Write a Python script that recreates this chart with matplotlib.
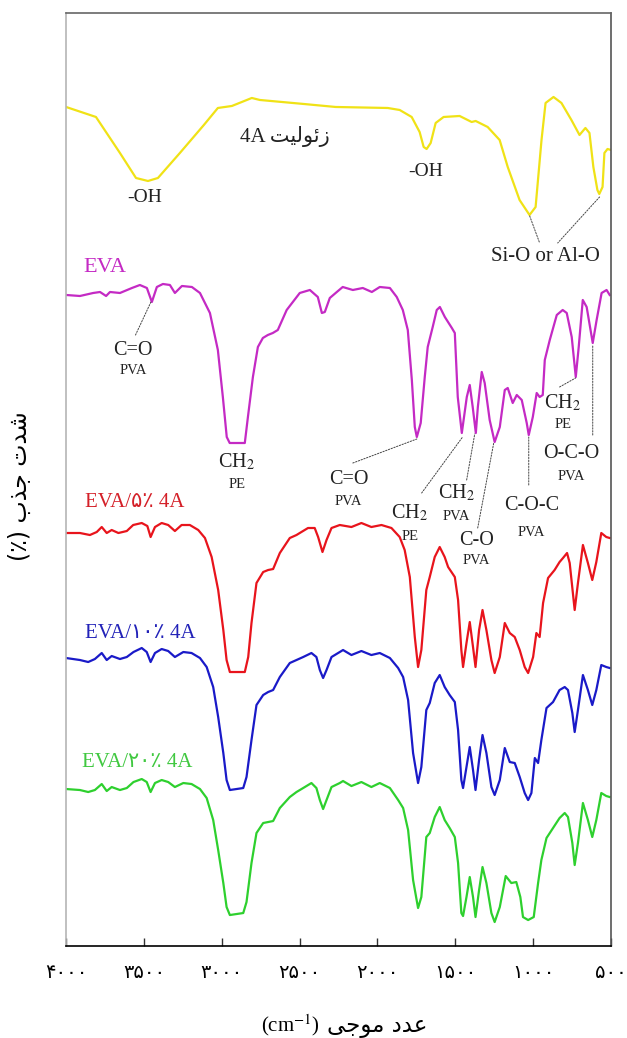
#!/usr/bin/env python3

# FTIR spectra of zeolite 4A, EVA and EVA/4A composites (stacked, arbitrary units)

import matplotlib
matplotlib.use("Agg")
import matplotlib.pyplot as plt

plt.rcParams['font.family'] = ['Liberation Serif', 'DejaVu Sans']
plt.rcParams['mathtext.fontset'] = 'stix'

# ---- data (wavenumber cm-1, stacked intensity a.u.) ----
zeo_wn = [4000, 3808, 3654, 3551, 3474, 3410, 3269, 3115, 3025, 2935, 2807, 2755, 2473, 2268,
          1934, 1857, 1780, 1729, 1703, 1684, 1658, 1626, 1575, 1472, 1395, 1369, 1292, 1215,
          1163, 1087, 1023, 984, 946, 920, 869, 818, 754, 702, 664, 638, 613, 587, 575, 554,
          542, 522, 500]
zeo_y = [839, 829, 793, 768, 765, 768, 793, 821, 838, 840, 848, 846, 842, 839,
         838, 836, 829, 814, 799, 797, 803, 823, 829, 830, 824, 825, 819, 806,
         779, 746, 731, 739, 806, 843, 849, 843, 826, 811, 818, 813, 779, 756, 752, 759,
         793, 797, 796]

eva_wn = [4000, 3911, 3826, 3782, 3743, 3718, 3654, 3577, 3526, 3481, 3449, 3417, 3378, 3333,
          3301, 3256, 3192, 3140, 3076, 3025, 2993, 2968, 2949, 2852, 2832, 2800, 2768, 2736,
          2704, 2672, 2640, 2583, 2499, 2434, 2383, 2357, 2338, 2306, 2261, 2223, 2158, 2094,
          2036, 1985, 1920, 1876, 1837, 1805, 1779, 1760, 1747, 1722, 1696, 1677, 1645, 1619,
          1599, 1567, 1522, 1503, 1484, 1458, 1426, 1407, 1388, 1368, 1355, 1330, 1311, 1279,
          1247, 1214, 1182, 1163, 1131, 1105, 1073, 1041, 1028, 1002, 977, 958, 938, 925,
          893, 848, 810, 784, 752, 726, 707, 681, 656, 617, 592, 560, 528, 508]
eva_y = [651, 650, 653, 654, 650, 654, 653, 658, 661, 658, 644, 659, 662, 661,
         653, 660, 659, 653, 633, 596, 549, 509, 503, 503, 529, 569, 599, 608,
         611, 613, 616, 636, 653, 656, 649, 633, 634, 648, 654, 659, 656, 658,
         654, 659, 658, 649, 636, 616, 566, 519, 509, 523, 569, 599, 619, 636,
         639, 629, 618, 613, 549, 513, 549, 561, 539, 513, 539, 574, 563, 526,
         504, 519, 556, 558, 543, 551, 546, 523, 511, 529, 553, 549, 551, 586,
         606, 631, 636, 633, 609, 569, 599, 646, 639, 603, 626, 653, 656, 651]

eva5_wn = [4000, 3911, 3847, 3803, 3771, 3739, 3707, 3664, 3610, 3569, 3514, 3478, 3457, 3429,
           3386, 3344, 3301, 3258, 3205, 3151, 3108, 3065, 3023, 2990, 2969, 2948, 2852, 2830,
           2809, 2777, 2734, 2702, 2670, 2627, 2563, 2520, 2499, 2446, 2403, 2381, 2353, 2327,
           2295, 2242, 2167, 2103, 2039, 1974, 1910, 1857, 1825, 1792, 1760, 1739, 1718, 1686,
           1664, 1632, 1600, 1568, 1546, 1503, 1482, 1461, 1450, 1428, 1407, 1386, 1370, 1347,
           1325, 1300, 1268, 1247, 1214, 1182, 1150, 1118, 1086, 1054, 1032, 1000, 979, 958,
           936, 904, 862, 830, 808, 782, 765, 733, 712, 680, 648, 620, 594, 562, 530, 508]
eva5_y = [413, 413, 411, 414, 419, 413, 416, 413, 415, 421, 423, 420, 409, 419,
          423, 421, 415, 421, 421, 416, 408, 389, 356, 316, 286, 274, 274, 289,
          323, 363, 374, 376, 377, 393, 408, 411, 413, 418, 418, 409, 394, 406,
          418, 421, 419, 423, 419, 421, 418, 409, 396, 369, 309, 279, 296, 356,
          369, 389, 399, 389, 379, 369, 346, 296, 279, 303, 324, 299, 279, 316,
          336, 316, 286, 273, 289, 323, 313, 309, 296, 279, 273, 289, 313, 309,
          343, 368, 376, 384, 388, 393, 383, 336, 363, 401, 383, 366, 384, 413, 409, 408]

eva10_wn = [4000, 3911, 3858, 3815, 3771, 3739, 3707, 3654, 3610, 3567, 3514, 3482, 3457, 3429,
            3386, 3344, 3301, 3247, 3194, 3140, 3097, 3055, 3023, 2990, 2969, 2948, 2862, 2841,
            2809, 2777, 2734, 2702, 2670, 2627, 2563, 2520, 2477, 2424, 2392, 2370, 2349, 2327,
            2295, 2242, 2221, 2167, 2103, 2039, 1985, 1920, 1867, 1835, 1803, 1771, 1739, 1718,
            1686, 1664, 1632, 1600, 1568, 1536, 1503, 1482, 1461, 1450, 1428, 1407, 1386, 1370,
            1347, 1325, 1300, 1268, 1247, 1214, 1182, 1150, 1118, 1086, 1054, 1032, 1011, 989,
            968, 947, 914, 872, 830, 797, 776, 748, 733, 712, 680, 648, 620, 594, 562, 530, 508]
eva10_y = [288, 286, 284, 287, 293, 286, 290, 287, 289, 294, 298, 294, 284, 293,
           297, 295, 289, 294, 293, 288, 279, 259, 229, 193, 166, 156, 158, 169,
           206, 241, 251, 254, 256, 269, 283, 286, 289, 293, 289, 276, 268, 276,
           289, 294, 296, 291, 295, 291, 293, 288, 278, 269, 246, 193, 163, 179,
           236, 243, 263, 271, 259, 251, 244, 216, 166, 158, 179, 199, 176, 156,
           186, 211, 193, 159, 151, 166, 198, 184, 183, 169, 153, 146, 153, 188,
           183, 206, 238, 244, 256, 259, 256, 233, 214, 236, 271, 256, 241, 256, 281, 279, 278]

eva20_wn = [4000, 3911, 3858, 3815, 3771, 3739, 3707, 3654, 3610, 3567, 3514, 3482, 3457, 3429,
            3386, 3344, 3301, 3247, 3194, 3140, 3097, 3055, 3023, 2990, 2969, 2948, 2862, 2841,
            2809, 2777, 2734, 2702, 2670, 2627, 2563, 2520, 2477, 2424, 2392, 2370, 2349, 2327,
            2295, 2242, 2221, 2167, 2103, 2039, 1985, 1920, 1867, 1835, 1803, 1771, 1739, 1718,
            1686, 1664, 1632, 1600, 1568, 1536, 1503, 1482, 1461, 1450, 1428, 1407, 1386, 1370,
            1347, 1325, 1300, 1268, 1247, 1214, 1176, 1140, 1108, 1082, 1065, 1032, 996, 968,
            947, 914, 872, 830, 797, 776, 748, 733, 712, 680, 648, 620, 594, 562, 530, 508]
eva20_y = [157, 156, 154, 156, 162, 155, 159, 156, 158, 164, 167, 164, 154, 163,
           166, 164, 159, 163, 162, 157, 148, 126, 96, 63, 39, 31, 33, 44,
           83, 113, 123, 124, 125, 138, 149, 154, 158, 163, 158, 146, 137, 146,
           159, 163, 165, 160, 164, 159, 163, 158, 146, 138, 116, 66, 38, 49,
           109, 113, 129, 139, 126, 118, 109, 83, 33, 30, 49, 69, 49, 29,
           56, 79, 63, 33, 24, 39, 70, 63, 64, 49, 29, 26, 29, 63,
           86, 108, 118, 128, 133, 129, 103, 81, 103, 143, 126, 109, 126, 153, 150, 149]

xticks = [4000, 3500, 3000, 2500, 2000, 1500, 1000, 500]

persian = str.maketrans('0123456789', '\u06F0\u06F1\u06F2\u06F3\u06F4\u06F5\u06F6\u06F7\u06F8\u06F9')

# Persian strings written in shaped (presentation-form) visual order, since
# matplotlib has no bidi / arabic shaping.
zeo_label = '4A \uFE96\uFBFF\uFEDF\uFEEE\uFE8B\uFEAF'          # زئولیت 4A
ylab = '(\u066A) \uFE8F\uFEAC\uFE9F \uFE95\uFEAA\uFEB7'        # شدت جذب (٪)
xlab_fa = '\uFBFD\uFE9F\uFEEE\uFEE3 \uFEA9\uFEAA\uFECB'         # عدد موجی

fig = plt.figure(figsize=(6.27, 10.38), dpi=100)
ax = fig.add_axes([0.1054, 0.0886, 0.869, 0.8989])

lw = 1.6
kw = dict(lw=lw, solid_joinstyle='round')
ax.plot(zeo_wn, zeo_y, color='#F0E216', **kw)
ax.plot(eva_wn, eva_y, color='#C42AC4', **kw)
ax.plot(eva5_wn, eva5_y, color='#E8141C', **kw)
ax.plot(eva10_wn, eva10_y, color='#1A1AC8', **kw)
ax.plot(eva20_wn, eva20_y, color='#2ED02E', **kw)

ax.set_xlim(4000, 500)
ax.set_ylim(0, 933)
ax.set_yticks([])
ax.set_xticks(xticks)
ax.set_xticklabels([str(t).translate(persian) for t in xticks],
                   fontsize=14, family=['DejaVu Sans'])
ax.tick_params(axis='x', direction='in', length=6, width=1, pad=12, color='#333333')

ax.spines['left'].set_color('#b5b5b5')
ax.spines['top'].set_color('#666666')
ax.spines['right'].set_color('#555555')
ax.spines['bottom'].set_color('black')
for s in ax.spines.values():
    s.set_linewidth(1.2)

# curve labels
ax.text(3890, 678, 'EVA', color='#C42AC4', fontsize=16, va='center')
ax.text(3878, 444, 'EVA/\u06F5\u066A 4A', color='#D42028', fontsize=15, va='center')
ax.text(3878, 313, 'EVA/\u06F1\u06F0\u066A 4A', color='#2222B8', fontsize=15, va='center')
ax.text(3897, 184, 'EVA/\u06F2\u06F0\u066A 4A', color='#40C840', fontsize=15, va='center')

# zeolite annotations
tc = '#222222'
ax.text(2596, 809, zeo_label, fontsize=15, ha='center', va='center', color=tc)
ax.text(3493, 748, '-OH', fontsize=14, ha='center', va='center', color=tc)
ax.text(1690, 774, '-OH', fontsize=14, ha='center', va='center', color=tc)
ax.text(922, 689, 'Si-O or Al-O', fontsize=15, ha='center', va='center', color=tc)

# EVA band annotations: (label, sub, x, y, dy of sub)
bands = [
    ('C=O', 'PVA', 3571, 595, 20),
    ('CH$_2$', 'PE', 2903, 484, 22),
    ('C=O', 'PVA', 2184, 467, 22),
    ('CH$_2$', 'PE', 1793, 433, 23),
    ('CH$_2$', 'PVA', 1491, 453, 23),
    ('C-O', 'PVA', 1362, 406, 20),
    ('C-O-C', 'PVA', 1009, 441, 27),
    ('CH$_2$', 'PE', 810, 543, 21),
    ('O-C-O', 'PVA', 752, 493, 23),
]
for lab, sub, x, y, dy in bands:
    ax.text(x, y, lab, fontsize=14.5, ha='center', va='center', color=tc)
    ax.text(x, y - dy, sub, fontsize=10.5, ha='center', va='center', color=tc)

# dotted leader lines: (start, end)
leaders = [
    ((1022, 730), (958, 703)),
    ((573, 749), (842, 703)),
    ((3455, 644), (3557, 610)),
    ((2158, 483), (1747, 507)),
    ((1716, 453), (1453, 509)),
    ((1427, 466), (1375, 512)),
    ((1356, 418), (1253, 503)),
    ((1028, 461), (1028, 509)),
    ((830, 559), (727, 568)),
    ((617, 511), (617, 601)),
]
for a, b in leaders:
    ax.annotate('', xy=b, xytext=a,
                arrowprops=dict(arrowstyle='-', linestyle=(0, (1.5, 1.5)), lw=0.7,
                                color='#444444', shrinkA=0, shrinkB=0))

fig.text(0.032, 0.532, ylab, rotation=90, fontsize=17, ha='center', va='center',
         family=['DejaVu Sans'])
fig.text(0.681, 0.0106, xlab_fa, fontsize=16.5, ha='right', va='center', family=['DejaVu Sans'])
fig.text(0.510, 0.0125, '(cm$^{-1}$)', fontsize=15, ha='right', va='center')

fig.savefig('out.png', dpi=100)
